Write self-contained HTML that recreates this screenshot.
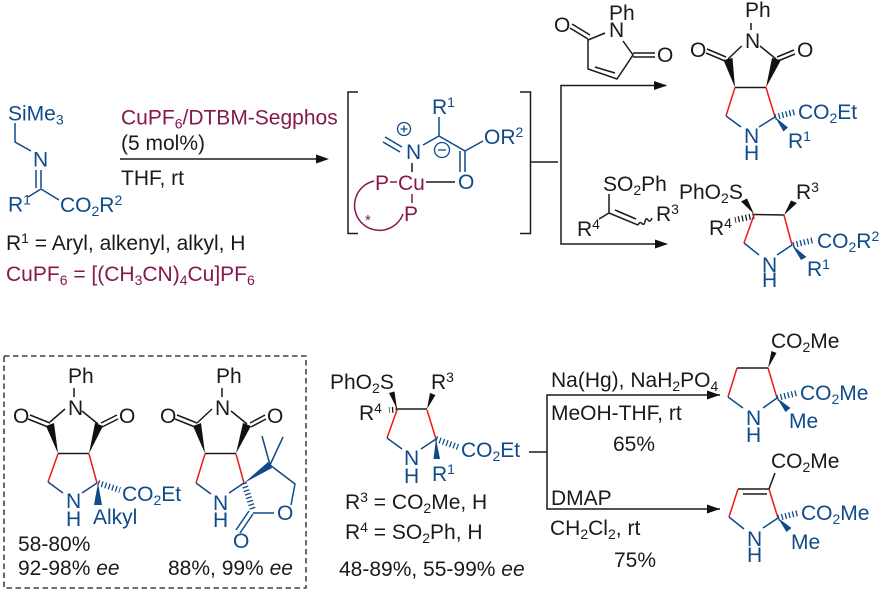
<!DOCTYPE html>
<html><head><meta charset="utf-8"><style>
html,body{margin:0;padding:0;background:#fff}
svg{display:block}
text{font-family:"Liberation Sans",sans-serif;font-size:21px;fill:#1a1a1a}
.b{fill:#0f4a8a}.m{fill:#85184f}
tspan.s{font-size:14px}
.lk path{fill:none;stroke:#1a1a1a;stroke-width:1.5}
.lb path{fill:none;stroke:#0f4a8a;stroke-width:1.5}
.lr path{fill:none;stroke:#f01818;stroke-width:1.5}
.lm path{fill:none;stroke:#85184f;stroke-width:1.5}
.h path{fill:none;stroke-width:6;stroke-dasharray:1.3 2.4}
.fk path{fill:#111;stroke:none}
.fb path{fill:#0f4a8a;stroke:none}
</style></head><body>
<svg width="882" height="592" viewBox="0 0 882 592" xmlns="http://www.w3.org/2000/svg">

<!-- connectors, arrows -->
<g class="lk">
<path d="M120 159H318"/>
<path d="M358 92H348V233.5H358M520 92H530.5V233.5H520M531 162H558"/>
<path d="M666 85.5H561V244H666"/>
<path d="M529 452H547M720 395H547V509H720"/>
</g>
<g class="fk">
<path d="M329 159L316 154.5V163.5Z"/>
<path d="M667 85.5L654 81V90Z"/>
<path d="M668 244L655 239.5V248.5Z"/>
<path d="M720 395L707 390.5V399.5Z"/>
<path d="M720 509L707 504.5V513.5Z"/>
</g>

<!-- dashed box -->
<rect x="4" y="356" width="302" height="232" fill="none" stroke="#1a1a1a" stroke-width="1.3" stroke-dasharray="5.5 3.5"/>

<!-- imine -->
<g class="lb"><path d="M15 123V142L31 151M36 170V188M41 170V188M28 197L41 189L59 200"/></g>
<text class="b" x="8" y="120.5">SiMe<tspan class="s" dy="4">3</tspan></text>
<text class="b" x="33" y="166.5">N</text>
<text class="b" x="8" y="211.5">R<tspan class="s" dy="-7">1</tspan></text>
<text class="b" x="60" y="212">CO<tspan class="s" dy="4">2</tspan><tspan dy="-4">R</tspan><tspan class="s" dy="-7">2</tspan></text>

<text class="m" x="121" y="124.5">CuPF<tspan class="s" dy="4">6</tspan><tspan dy="-4">/DTBM-Segphos</tspan></text>
<text x="121" y="150">(5 mol%)</text>
<text x="121" y="185">THF, rt</text>
<text x="6" y="250">R<tspan class="s" dy="-7">1</tspan><tspan dy="7"> = Aryl, alkenyl, alkyl, H</tspan></text>
<text class="m" x="6" y="281">CuPF<tspan class="s" dy="4">6</tspan><tspan dy="-4"> = [(CH</tspan><tspan class="s" dy="4">3</tspan><tspan dy="-4">CN)</tspan><tspan class="s" dy="4">4</tspan><tspan dy="-4">Cu]PF</tspan><tspan class="s" dy="4">6</tspan></text>

<!-- Cu complex -->
<g class="lb">
<path d="M439 117V136M423 145L439 136L465 151L483 141M460 151V172M465 151V172M385 137L402 147M383 142L400 152"/>
</g>
<g fill="none" stroke="#0f4a8a" stroke-width="1.3">
<circle cx="404" cy="129" r="6.5"/><path d="M400.5 129H407.5M404 125.5V132.5"/>
<circle cx="442" cy="150" r="7.5"/><path d="M438 150H446"/>
</g>
<text class="b" x="432" y="114">R<tspan class="s" dy="-7">1</tspan></text>
<text class="b" x="484" y="144">OR<tspan class="s" dy="-7">2</tspan></text>
<text class="b" x="458" y="189">O</text>
<text class="b" x="406" y="159">N</text>
<g class="lk"><path d="M412 163V172M426 182H455"/></g>
<g class="lm"><path d="M390 182H397M412 194V203M374 181A25 25 0 1 0 403 214"/></g>
<text class="m" x="375" y="190">P</text>
<text class="m" x="398" y="190">Cu</text>
<text class="m" x="404" y="221">P</text>
<text class="m" x="365" y="225" style="font-size:15px">*</text>

<!-- maleimide -->
<g class="lk"><path d="M605 33L588 40V69L617 79L633 55L623 41M595 67L615 73M633 53H655M633 57H655M570 28L588 39M572 24L590 35"/></g>
<text x="609" y="20">Ph</text>
<text x="609" y="37">N</text>
<text x="657" y="62">O</text>
<text x="554" y="32">O</text>

<!-- product 1 -->
<g class="lk"><path d="M751 23V30M741.7 46L728 59M760 46L776 59M707 49L726 57M706 53L725 61M777 57L794 50M778 61L795 54M735 87.5H766"/></g>
<g class="fk"><path d="M735 87.5L723.5 60L732.5 58ZM766 87.5L772 58L781 60Z"/></g>
<g class="lr"><path d="M735 87.5L726 116M766 87.5L775 117"/></g>
<g class="lb"><path d="M726 116L741 127M775 117L759 127"/></g>
<g class="lb h"><path d="M775 117L795 112"/></g>
<g class="fb"><path d="M775 117L788 127.5L783.5 131.5Z"/></g>
<text x="745" y="17">Ph</text>
<text x="745" y="48">N</text>
<text x="690" y="57">O</text>
<text x="797" y="57">O</text>
<text class="b" x="744" y="143">N</text>
<text class="b" x="744" y="160">H</text>
<text class="b" x="798" y="119">CO<tspan class="s" dy="4">2</tspan><tspan dy="-4">Et</tspan></text>
<text class="b" x="788" y="148">R<tspan class="s" dy="-7">1</tspan></text>

<!-- vinyl sulfone -->
<g class="lk"><path d="M609 194V213M599 219L609 213L638 225M615 210L636 219M638 225q2 -4 4 -1.5t3 -2t3 -1.5t4 -2"/></g>
<text x="603" y="191">SO<tspan class="s" dy="4">2</tspan><tspan dy="-4">Ph</tspan></text>
<text x="577" y="236">R<tspan class="s" dy="-7">4</tspan></text>
<text x="656" y="221">R<tspan class="s" dy="-7">3</tspan></text>

<!-- product 2 -->
<g class="lk"><path d="M754 214.5L784 215"/></g>
<g class="fk"><path d="M754 214L741 201.5L747 198.5ZM784 215L791 200.5L797 203Z"/></g>
<g class="lk h"><path style="stroke:#1a1a1a" d="M754 216L735 220"/></g>
<g class="lr"><path d="M754 215L744 243M784 215L792 245"/></g>
<g class="lb"><path d="M744 243L759 255M792 245L777 255"/></g>
<g class="lb h"><path d="M793 245L814 240"/></g>
<g class="fb"><path d="M792 245L806.5 257L801 260Z"/></g>
<text x="679" y="199">PhO<tspan class="s" dy="4">2</tspan><tspan dy="-4">S</tspan></text>
<text x="796" y="199">R<tspan class="s" dy="-7">3</tspan></text>
<text x="709" y="235">R<tspan class="s" dy="-7">4</tspan></text>
<text class="b" x="762" y="272">N</text>
<text class="b" x="762" y="287">H</text>
<text class="b" x="817" y="248">CO<tspan class="s" dy="4">2</tspan><tspan dy="-4">R</tspan><tspan class="s" dy="-7">2</tspan></text>
<text class="b" x="807" y="276">R<tspan class="s" dy="-7">1</tspan></text>

<!-- Mol A -->
<g class="lk"><path d="M74 388V397M65 409L50 422M82 411L98 424M30 415L50 423M28 419L48 427M101 423L117 415M102 427L118 419M58 453.5H89"/></g>
<g class="fk"><path d="M58 453.5L46 426L54 423ZM89 453.5L95 423L103 426Z"/></g>
<g class="lr"><path d="M58 454L48 482M89 454L97 483"/></g>
<g class="lb"><path d="M48 482L63 493M97 483L82 493"/></g>
<g class="lb h"><path d="M98 483L120 490"/></g>
<g class="fb"><path d="M98 483L94 505H102Z"/></g>
<text x="68" y="383">Ph</text>
<text x="68" y="415">N</text>
<text x="13" y="423">O</text>
<text x="119" y="423">O</text>
<text class="b" x="66" y="508">N</text>
<text class="b" x="66" y="526">H</text>
<text class="b" x="122" y="501">CO<tspan class="s" dy="4">2</tspan><tspan dy="-4">Et</tspan></text>
<text class="b" x="93" y="524">Alkyl</text>
<text x="18" y="551">58-80%</text>
<text x="18" y="575">92-98% <tspan font-style="italic">ee</tspan></text>

<!-- Mol B -->
<g class="lk"><path d="M222 388V397M212 409L197 423M231 411L247 424M177 415L197 423M175 419L195 427M250 423L265 415M251 427L266 419M205 453.5H236"/></g>
<g class="fk"><path d="M205 453.5L193 426L201 423ZM236 453.5L243 423L251 426Z"/></g>
<g class="lr"><path d="M205 454L196 483M236 454L244 483"/></g>
<g class="lb"><path d="M196 483L211 494M244 483L229 493M270 465L262 436M270 465L283 437M270 465L295 484L291 505M253 513H274M253 514L240 533M249 511L236 530"/></g>
<g class="lb h"><path d="M244 483L253 510"/></g>
<g class="fb"><path d="M244 483L268 462L272 468Z"/></g>
<text x="216" y="383">Ph</text>
<text x="215" y="415">N</text>
<text x="160" y="423">O</text>
<text x="267" y="423">O</text>
<text class="b" x="213" y="510">N</text>
<text class="b" x="213" y="527">H</text>
<text class="b" x="277" y="520">O</text>
<text class="b" x="233" y="548">O</text>
<text x="168" y="575">88%, 99% <tspan font-style="italic">ee</tspan></text>

<!-- Mol C -->
<g class="lk"><path d="M397 409H427"/></g>
<g class="fk"><path d="M397 409L389 393L394.5 391.5ZM427 409L430 393L435.5 395Z"/></g>
<g class="lk h"><path style="stroke:#1a1a1a" d="M397 409.5L389 410"/></g>
<g class="lr"><path d="M397 410L387 438M427 410L436 439"/></g>
<g class="lb"><path d="M387 438L402 449M436 439L421 449"/></g>
<g class="lb h"><path d="M436 439L458 447"/></g>
<g class="fb"><path d="M436 439L433.5 459H440Z"/></g>
<text x="330" y="389">PhO<tspan class="s" dy="4">2</tspan><tspan dy="-4">S</tspan></text>
<text x="431" y="389">R<tspan class="s" dy="-7">3</tspan></text>
<text x="359" y="420">R<tspan class="s" dy="-7">4</tspan></text>
<text class="b" x="404" y="465">N</text>
<text class="b" x="404" y="483">H</text>
<text class="b" x="461" y="457">CO<tspan class="s" dy="4">2</tspan><tspan dy="-4">Et</tspan></text>
<text class="b" x="432" y="481">R<tspan class="s" dy="-7">1</tspan></text>
<text x="345" y="509">R<tspan class="s" dy="-7">3</tspan><tspan dy="7"> = CO</tspan><tspan class="s" dy="4">2</tspan><tspan dy="-4">Me, H</tspan></text>
<text x="345" y="539">R<tspan class="s" dy="-7">4</tspan><tspan dy="7"> = SO</tspan><tspan class="s" dy="4">2</tspan><tspan dy="-4">Ph, H</tspan></text>
<text x="339" y="576">48-89%, 55-99% <tspan font-style="italic">ee</tspan></text>

<!-- conditions -->
<text x="551" y="387">Na(Hg), NaH<tspan class="s" dy="4">2</tspan><tspan dy="-4">PO</tspan><tspan class="s" dy="4">4</tspan></text>
<text x="551" y="420">MeOH-THF, rt</text>
<text x="613" y="451">65%</text>
<text x="551" y="505">DMAP</text>
<text x="550" y="535">CH<tspan class="s" dy="4">2</tspan><tspan dy="-4">Cl</tspan><tspan class="s" dy="4">2</tspan><tspan dy="-4">, rt</tspan></text>
<text x="614" y="567">75%</text>

<!-- Mol D -->
<g class="lk"><path d="M737 368H768"/></g>
<g class="fk"><path d="M768 368L771.5 351L776.5 353Z"/></g>
<g class="lr"><path d="M737 368L728 397M768 368L777 398"/></g>
<g class="lb"><path d="M728 397L743 408M777 398L763 408"/></g>
<g class="lb h"><path d="M777 398L797 393"/></g>
<g class="fb"><path d="M777 398L790.5 408L785.5 412Z"/></g>
<text x="771" y="348">CO<tspan class="s" dy="4">2</tspan><tspan dy="-4">Me</tspan></text>
<text class="b" x="746" y="425">N</text>
<text class="b" x="746" y="442">H</text>
<text class="b" x="800" y="400">CO<tspan class="s" dy="4">2</tspan><tspan dy="-4">Me</tspan></text>
<text class="b" x="789" y="428">Me</text>

<!-- Mol E -->
<g class="lk"><path d="M769 489L775 473M738 489H769M743 494H767"/></g>
<g class="lr"><path d="M738 489L729 517M769 489L778 518"/></g>
<g class="lb"><path d="M729 517L744 529M778 518L763 528"/></g>
<g class="lb h"><path d="M778 518L798 513"/></g>
<g class="fb"><path d="M778 518L791.5 528L786.5 532Z"/></g>
<text x="771" y="468">CO<tspan class="s" dy="4">2</tspan><tspan dy="-4">Me</tspan></text>
<text class="b" x="747" y="546">N</text>
<text class="b" x="747" y="562">H</text>
<text class="b" x="801" y="520">CO<tspan class="s" dy="4">2</tspan><tspan dy="-4">Me</tspan></text>
<text class="b" x="791" y="549">Me</text>
</svg>
</body></html>
